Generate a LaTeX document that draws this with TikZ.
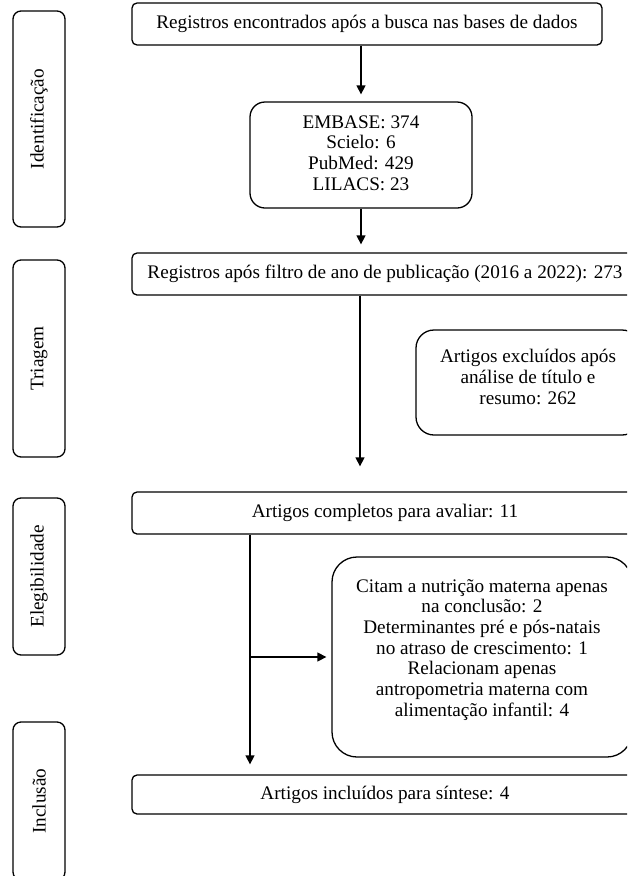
\documentclass[tikz,border=0pt]{standalone}
\usepackage{fontspec}
\setmainfont{Liberation Serif}
\usetikzlibrary{arrows.meta,positioning}
\tikzset{phase/.style={draw,rounded corners=8pt,minimum width=52pt,inner sep=0pt}}
\tikzset{stage/.style={draw,rounded corners=5pt,inner sep=0pt,align=center,minimum height=42pt}}
\tikzset{transition/.style={-{Triangle[length=9pt,width=9pt]}}}
\newcommand{\lines}[2][0pt]{\raisebox{#1}[\height][\depth]{\begin{tabular}{@{}c@{}}#2\end{tabular}}}

\begin{document}
\begin{tikzpicture}[x=1pt,y=-1pt,line width=1.3pt]\fontsize{19.2}{20.7}\selectfont
  \useasboundingbox (0,0) rectangle (627,876);
  \clip (0,0) rectangle (627,876);
  % fases
  \node[phase,minimum height=216pt] (ident) at (39,119) {\rotatebox{90}{Identificação}};
  \node[phase,minimum height=197pt] (triag) at (39,358.5) {\rotatebox{90}{Triagem}};
  \node[phase,minimum height=157pt] (eleg) at (39,576.5) {\rotatebox{90}{Elegibilidade}};
  \node[phase,minimum height=158pt] (incl) at (39,801) {\rotatebox{90}{Inclusão}};
  % etapas
  \node[stage,minimum width=470pt] (busca) at (367,24) {Registros encontrados após a busca nas bases de dados};
  \node[stage,rounded corners=15pt,minimum width=222pt,minimum height=106pt] (bases) at (361,155)
    {\lines{EMBASE: 374\\Scielo: 6\\PubMed: 429\\LILACS: 23}};
  \node[stage,minimum width=506pt] (filtro) at (385,274) {Registros após filtro de ano de publicação (2016 a 2022): 273};
  \node[stage,rounded corners=18pt,minimum width=224pt,minimum height=105pt] (excl) at (528,382.5)
    {\lines[3pt]{Artigos excluídos após\\análise de título e\\resumo: 262}};
  \node[stage,minimum width=506pt] (compl) at (385,513) {Artigos completos para avaliar: 11};
  \node[stage,rounded corners=25pt,minimum width=300pt,minimum height=200pt] (citam) at (482,657)
    {\lines[7pt]{Citam a nutrição materna apenas\\na conclusão: 2\\Determinantes pré e pós-natais\\no atraso de crescimento: 1\\Relacionam apenas\\antropometria materna com\\alimentação infantil: 4}};
  \node[stage,minimum width=506pt,minimum height=39pt] (inclu) at (385,794.5) {Artigos incluídos para síntese: 4};
  % ligações
  \coordinate (c1) at (compl.south -| 250,0);
  \coordinate (c2) at (c1 |- citam.west);
  \path[transition]
    (bases.north |- busca.south) edge[shorten >=7pt] (bases.north)
    (bases.south) edge[shorten >=8pt] (bases.south |- filtro.north)
    (filtro.south -| 360,0) edge[shorten >=25pt] (compl.north -| 360,0)
    (c1) edge[shorten >=10pt] (c1 |- inclu.north)
    (c2) edge[shorten >=5pt] (citam.west);
\end{tikzpicture}
\end{document}
